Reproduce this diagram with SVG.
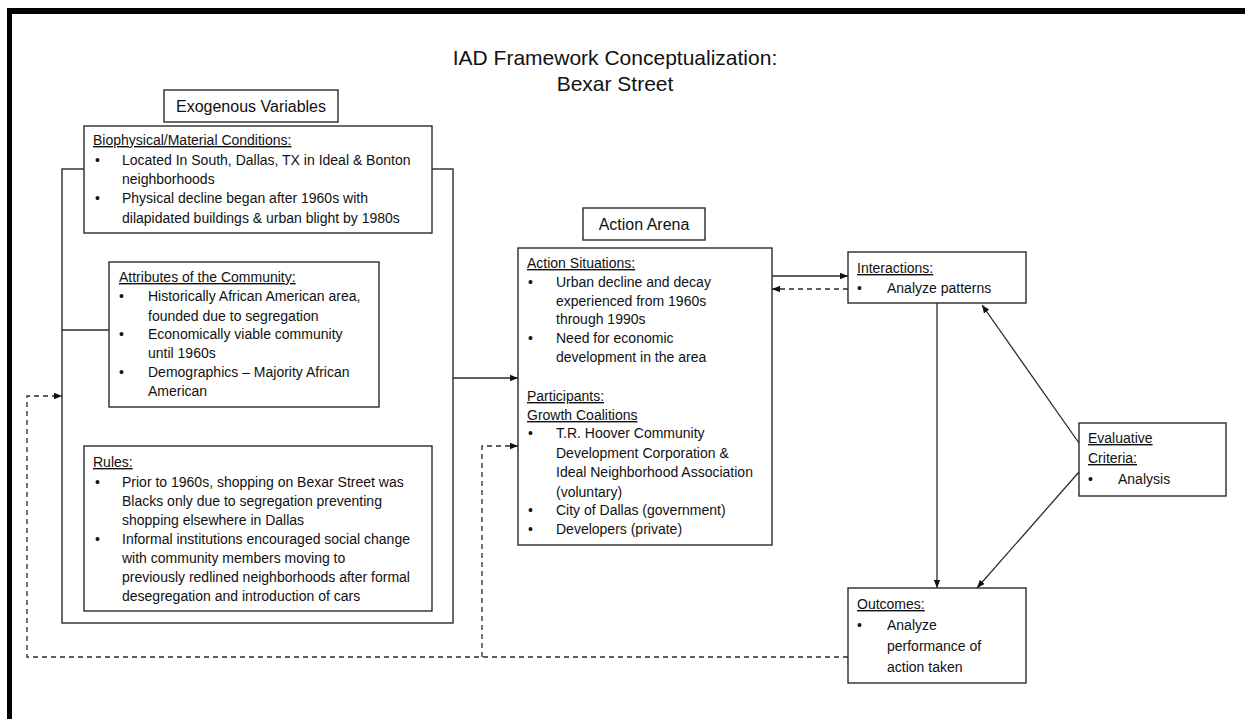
<svg xmlns="http://www.w3.org/2000/svg" width="1245" height="719" viewBox="0 0 1245 719">
<style>
.box{fill:#fff;stroke:#2a2a2a;stroke-width:1.4}
.ln{fill:none;stroke:#2a2a2a;stroke-width:1.3}
.dash{fill:none;stroke:#2a2a2a;stroke-width:1.3;stroke-dasharray:5 4}
text{font-family:"Liberation Sans",Arial,sans-serif;fill:#111}
.t{font-size:14px}
.h{font-size:14px;text-decoration:underline}
.lbl{font-size:16px}
.title{font-size:21px}
</style>
<defs>
<marker id="ah" viewBox="0 0 10 10" refX="10" refY="5" markerWidth="8" markerHeight="8" markerUnits="userSpaceOnUse" orient="auto">
<path d="M0,1 L10,5 L0,9 Z" fill="#111"/>
</marker>
</defs>
<rect width="1245" height="719" fill="#fff"/>
<g id="frame">
<rect x="7" y="8" width="1238" height="6" fill="#000"/>
<rect x="7" y="8" width="5" height="711" fill="#000"/>
</g>
<g id="title">
<text class="title" x="615" y="65" text-anchor="middle">IAD Framework Conceptualization:</text>
<text class="title" x="615" y="91" text-anchor="middle">Bexar Street</text>
</g>
<g id="exogenous-outer">
<rect class="box" x="62" y="169" width="391" height="454"/>
</g>
<g id="connectors">
<path class="ln" d="M62,330 H109"/>
<path class="ln" d="M453,378 H518" marker-end="url(#ah)"/>
<path class="ln" d="M772,276 L848,276" marker-end="url(#ah)"/>
<path class="dash" d="M848,289 H772" marker-end="url(#ah)"/>
<path class="ln" d="M937,303 V588" marker-end="url(#ah)"/>
<path class="ln" d="M1079,443 L982,305" marker-end="url(#ah)"/>
<path class="ln" d="M1079,472 L977,588" marker-end="url(#ah)"/>
<path class="dash" d="M848,657 H27 V396 H62" marker-end="url(#ah)"/>
<path class="dash" d="M482,657 V446 H518" marker-end="url(#ah)"/>
</g>
<g id="exogenous-label">
<rect class="box" x="164" y="90" width="174" height="32"/>
<text class="lbl" x="251" y="112" text-anchor="middle">Exogenous Variables</text>
</g>
<g id="biophysical">
<rect class="box" x="84" y="126" width="348" height="107"/>
<text class="h" x="93" y="145">Biophysical/Material Conditions:</text>
<text class="t" x="95" y="165">•</text>
<text class="t" x="122" y="165">Located In South, Dallas, TX in Ideal &amp; Bonton</text>
<text class="t" x="122" y="184">neighborhoods</text>
<text class="t" x="95" y="203">•</text>
<text class="t" x="122" y="203">Physical decline began after 1960s with</text>
<text class="t" x="122" y="223">dilapidated buildings &amp; urban blight by 1980s</text>
</g>
<g id="attributes">
<rect class="box" x="109" y="262" width="270" height="145"/>
<text class="h" x="119" y="282">Attributes of the Community:</text>
<text class="t" x="119" y="301">•</text>
<text class="t" x="148" y="301">Historically African American area,</text>
<text class="t" x="148" y="321">founded due to segregation</text>
<text class="t" x="119" y="339">•</text>
<text class="t" x="148" y="339">Economically viable community</text>
<text class="t" x="148" y="358">until 1960s</text>
<text class="t" x="119" y="377">•</text>
<text class="t" x="148" y="377">Demographics – Majority African</text>
<text class="t" x="148" y="396">American</text>
</g>
<g id="rules">
<rect class="box" x="84" y="446" width="348" height="165"/>
<text class="h" x="93" y="467">Rules:</text>
<text class="t" x="95" y="487">•</text>
<text class="t" x="122" y="487">Prior to 1960s, shopping on Bexar Street was</text>
<text class="t" x="122" y="506">Blacks only due to segregation preventing</text>
<text class="t" x="122" y="525">shopping elsewhere in Dallas</text>
<text class="t" x="95" y="544">•</text>
<text class="t" x="122" y="544">Informal institutions encouraged social change</text>
<text class="t" x="122" y="563">with community members moving to</text>
<text class="t" x="122" y="582">previously redlined neighborhoods after formal</text>
<text class="t" x="122" y="601">desegregation and introduction of cars</text>
</g>
<g id="action-label">
<rect class="box" x="583" y="208" width="122" height="32"/>
<text class="lbl" x="644" y="230" text-anchor="middle">Action Arena</text>
</g>
<g id="action-arena">
<rect class="box" x="518" y="248" width="254" height="297"/>
<text class="h" x="527" y="268">Action Situations:</text>
<text class="t" x="528" y="287">•</text>
<text class="t" x="556" y="287">Urban decline and decay</text>
<text class="t" x="556" y="306">experienced from 1960s</text>
<text class="t" x="556" y="324">through 1990s</text>
<text class="t" x="528" y="343">•</text>
<text class="t" x="556" y="343">Need for economic</text>
<text class="t" x="556" y="362">development in the area</text>
<text class="h" x="527" y="401">Participants:</text>
<text class="h" x="527" y="420">Growth Coalitions</text>
<text class="t" x="528" y="438">•</text>
<text class="t" x="556" y="438">T.R. Hoover Community</text>
<text class="t" x="556" y="458">Development Corporation &amp;</text>
<text class="t" x="556" y="477">Ideal Neighborhood Association</text>
<text class="t" x="556" y="497">(voluntary)</text>
<text class="t" x="528" y="515">•</text>
<text class="t" x="556" y="515">City of Dallas (government)</text>
<text class="t" x="528" y="534">•</text>
<text class="t" x="556" y="534">Developers (private)</text>
</g>
<g id="interactions">
<rect class="box" x="848" y="252" width="178" height="51"/>
<text class="h" x="857" y="273">Interactions:</text>
<text class="t" x="857" y="293">•</text>
<text class="t" x="887" y="293">Analyze patterns</text>
</g>
<g id="evaluative">
<rect class="box" x="1079" y="423" width="147" height="73"/>
<text class="h" x="1088" y="443">Evaluative</text>
<text class="h" x="1088" y="463">Criteria:</text>
<text class="t" x="1088" y="484">•</text>
<text class="t" x="1118" y="484">Analysis</text>
</g>
<g id="outcomes">
<rect class="box" x="848" y="588" width="178" height="95"/>
<text class="h" x="857" y="609">Outcomes:</text>
<text class="t" x="857" y="630">•</text>
<text class="t" x="887" y="630">Analyze</text>
<text class="t" x="887" y="651">performance of</text>
<text class="t" x="887" y="672">action taken</text>
</g>
</svg>
